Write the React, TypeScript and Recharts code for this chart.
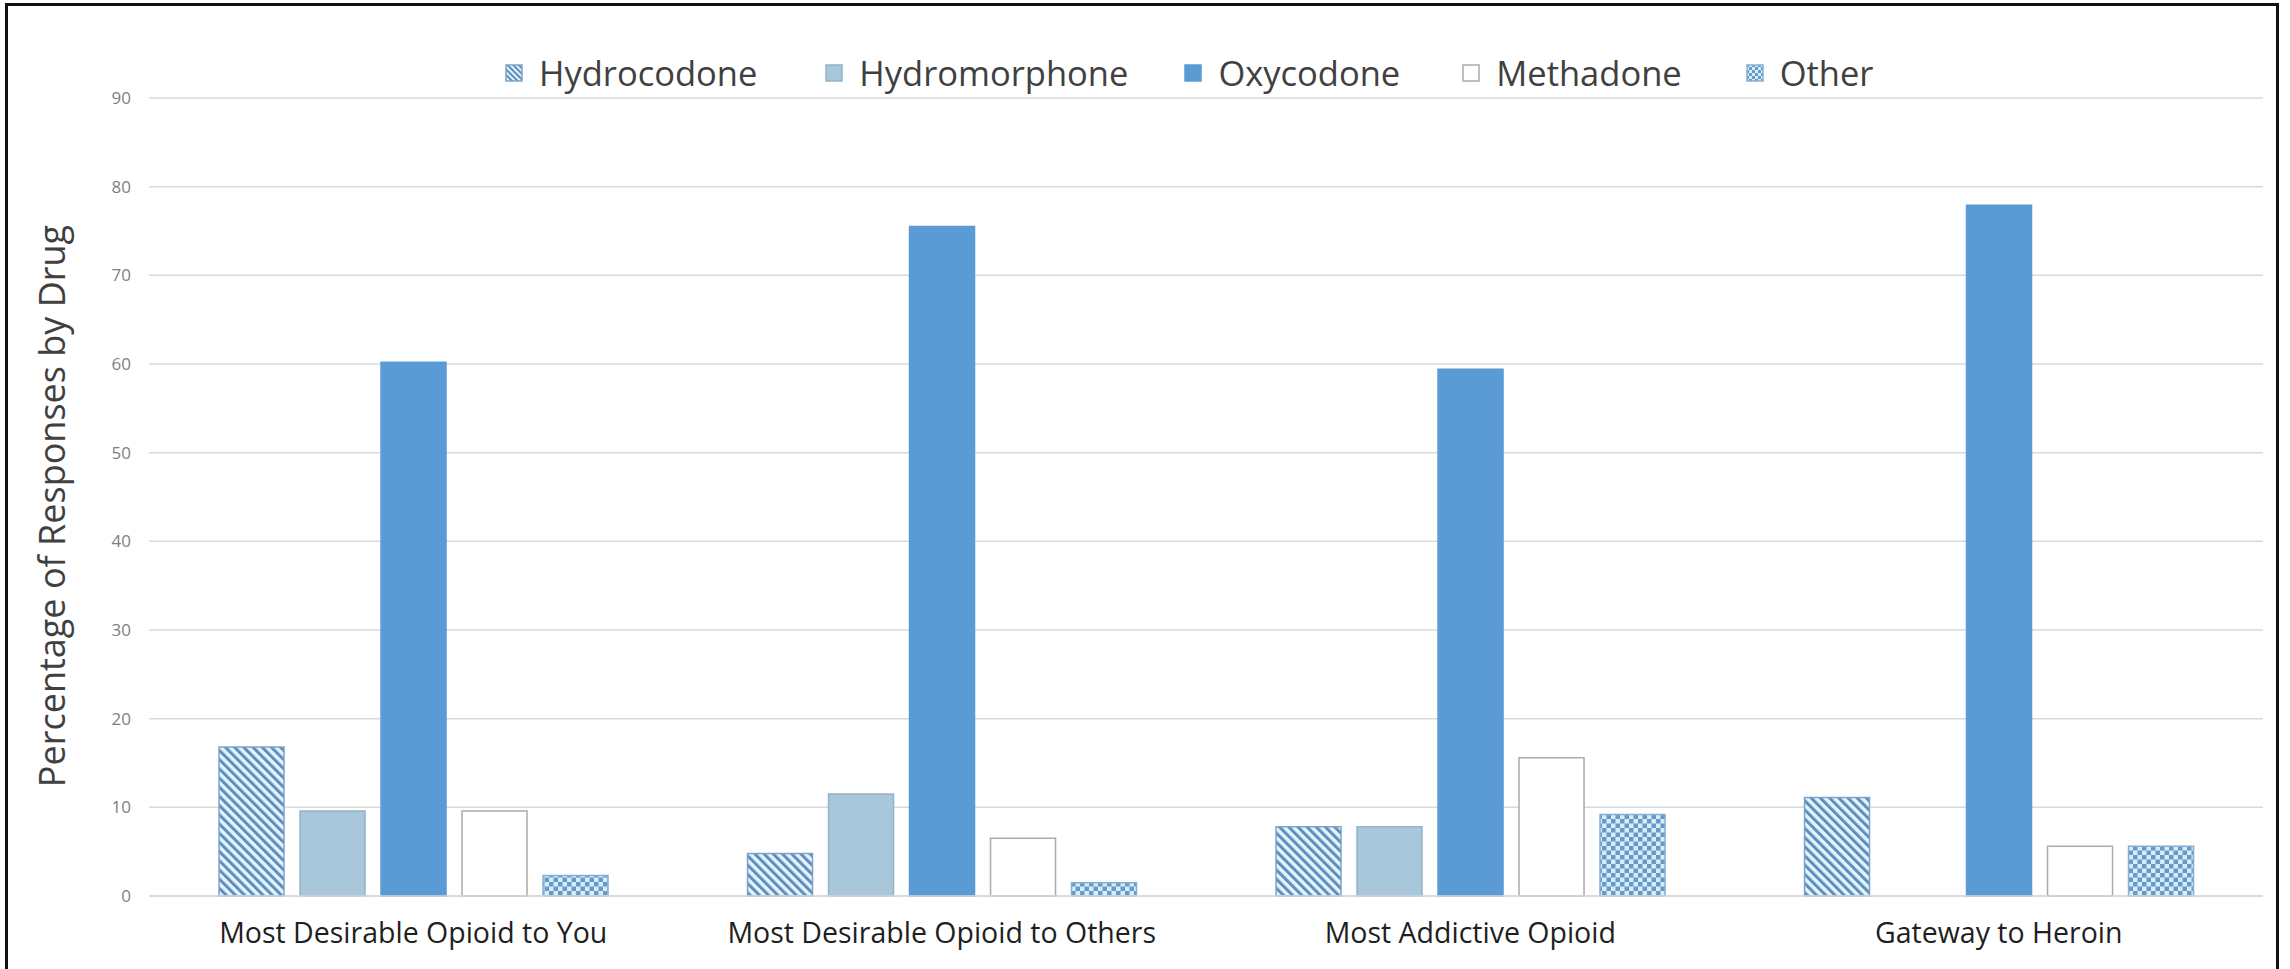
import React from "react";
import { BarChart, Bar, XAxis, YAxis, CartesianGrid, Legend } from "recharts";

const categories = [
  "Most Desirable Opioid to You",
  "Most Desirable Opioid to Others",
  "Most Addictive Opioid",
  "Gateway to Heroin",
];
const hydrocodone = [16.8, 4.8, 7.8, 11.1];
const hydromorphone: (number | null)[] = [9.6, 11.5, 7.8, null];
const oxycodone = [60.2, 75.5, 59.4, 77.9];
const methadone = [9.6, 6.5, 15.6, 5.6];
const other = [2.3, 1.5, 9.2, 5.6];
const yTicks = [0, 10, 20, 30, 40, 50, 60, 70, 80, 90];

const seriesNames = ["Hydrocodone", "Hydromorphone", "Oxycodone", "Methadone", "Other"];
const legendGaps = [68, 56, 62, 64, 0];

const data = categories.map((c, i) => ({
  category: c,
  Hydrocodone: hydrocodone[i],
  Hydromorphone: hydromorphone[i],
  Oxycodone: oxycodone[i],
  Methadone: methadone[i],
  Other: other[i],
}));

const FONT = "'Open Sans', sans-serif";

const styles: Record<string, { fill: string; stroke: string }> = {
  Hydrocodone: { fill: "url(#stripes)", stroke: "#7DA4C8" },
  Hydromorphone: { fill: "#A9C7DA", stroke: "#93B3C8" },
  Oxycodone: { fill: "#5B9BD5", stroke: "#5B9BD5" },
  Methadone: { fill: "#FFFFFF", stroke: "#ABABAB" },
  Other: { fill: "url(#checker)", stroke: "#86AED3" },
};

const Swatch = ({ name, id }: { name: string; id: string }) => (
  <svg width={18} height={18} style={{ display: "block" }}>
    <defs>
      <pattern id={`lg-stripes-${id}`} patternUnits="userSpaceOnUse" width={4} height={4} patternTransform="rotate(-45)">
        <rect width={4} height={4} fill="#E3F3FB" />
        <rect width={2} height={4} fill="#5D8EBE" />
      </pattern>
      <pattern id={`lg-checker-${id}`} patternUnits="userSpaceOnUse" width={6} height={6}>
        <rect width={6} height={6} fill="#D2EEFB" />
        <rect width={3} height={3} fill="#6C98C8" />
        <rect x={3} y={3} width={3} height={3} fill="#6C98C8" />
      </pattern>
    </defs>
    <rect
      x={1}
      y={1}
      width={16}
      height={16}
      fill={
        name === "Hydrocodone"
          ? `url(#lg-stripes-${id})`
          : name === "Other"
          ? `url(#lg-checker-${id})`
          : styles[name].fill
      }
      stroke={styles[name].stroke}
      strokeWidth={1.5}
    />
  </svg>
);

const LegendContent = () => (
  <div style={{ display: "flex", alignItems: "center", height: 40, fontFamily: FONT }}>
    {seriesNames.map((n, i) => (
      <div key={n} style={{ display: "flex", alignItems: "center", marginRight: legendGaps[i] }}>
        <Swatch name={n} id={String(i)} />
        <span style={{ marginLeft: 16, fontSize: 34.5, color: "#404040", lineHeight: "40px" }}>{n}</span>
      </div>
    ))}
  </div>
);

const XTick = (props: any) => {
  const { x, y, payload } = props;
  return (
    <text x={x} y={y + 47} textAnchor="middle" fill="#1F1F1F" fontSize={28.5} fontFamily={FONT}>
      {payload.value}
    </text>
  );
};

const YLabel = () => (
  <text
    x={0}
    y={0}
    transform="translate(65, 506) rotate(-90)"
    textAnchor="middle"
    fill="#404040"
    fontSize={36}
    fontFamily={FONT}
  >
    Percentage of Responses by Drug
  </text>
);

export default function App() {
  return (
    <div
      style={{
        position: "absolute",
        left: 0,
        top: 0,
        width: 2290,
        height: 969,
        overflow: "hidden",
        background: "#fff",
      }}
    >
      <div
        style={{
          position: "absolute",
          left: 5,
          top: 3,
          width: 2268,
          height: 1000,
          borderLeft: "3px solid #111",
          borderTop: "3px solid #111",
          borderRight: "3px solid #111",
        }}
      />
      <div style={{ position: "absolute", left: 0, top: 0 }}>
        <BarChart
          width={2290}
          height={969}
          data={data}
          margin={{ top: 98, right: 27, bottom: 13, left: 0 }}
          barCategoryGap="13.25%"
          barGap={16}
          style={{ fontFamily: FONT }}
        >
          <defs>
            <pattern id="stripes" patternUnits="userSpaceOnUse" width={6.5} height={6.5} patternTransform="rotate(-45)">
              <rect width={6.5} height={6.5} fill="#E3F3FB" />
              <rect width={3} height={6.5} fill="#5D8EBE" />
            </pattern>
            <pattern id="checker" patternUnits="userSpaceOnUse" width={9} height={9}>
              <rect width={9} height={9} fill="#D2EEFB" />
              <rect width={4.5} height={4.5} fill="#6C98C8" />
              <rect x={4.5} y={4.5} width={4.5} height={4.5} fill="#6C98C8" />
            </pattern>
          </defs>
          <CartesianGrid vertical={false} stroke="#D9D9D9" strokeWidth={1.5} />
          <XAxis
            dataKey="category"
            height={60}
            interval={0}
            tickLine={false}
            tickSize={0}
            tickMargin={0}
            axisLine={{ stroke: "#D9D9D9", strokeWidth: 1.5 }}
            tick={<XTick />}
          />
          <YAxis
            width={149}
            domain={[0, 90]}
            ticks={yTicks}
            axisLine={false}
            tickLine={false}
            tickSize={0}
            tickMargin={18}
            tick={{ fill: "#7F7F7F", fontSize: 17, fontFamily: FONT }}
            label={{ content: () => <YLabel /> }}
          />
          <Legend
            verticalAlign="middle"
            align="center"
            content={() => <LegendContent />}
            wrapperStyle={{ top: 53, left: 505, width: "auto", height: 40 }}
          />
          {seriesNames.map((n) => (
            <Bar
              key={n}
              dataKey={n}
              fill={styles[n].fill}
              stroke={styles[n].stroke}
              strokeWidth={1.5}
              isAnimationActive={false}
            />
          ))}
        </BarChart>
      </div>
    </div>
  );
}
